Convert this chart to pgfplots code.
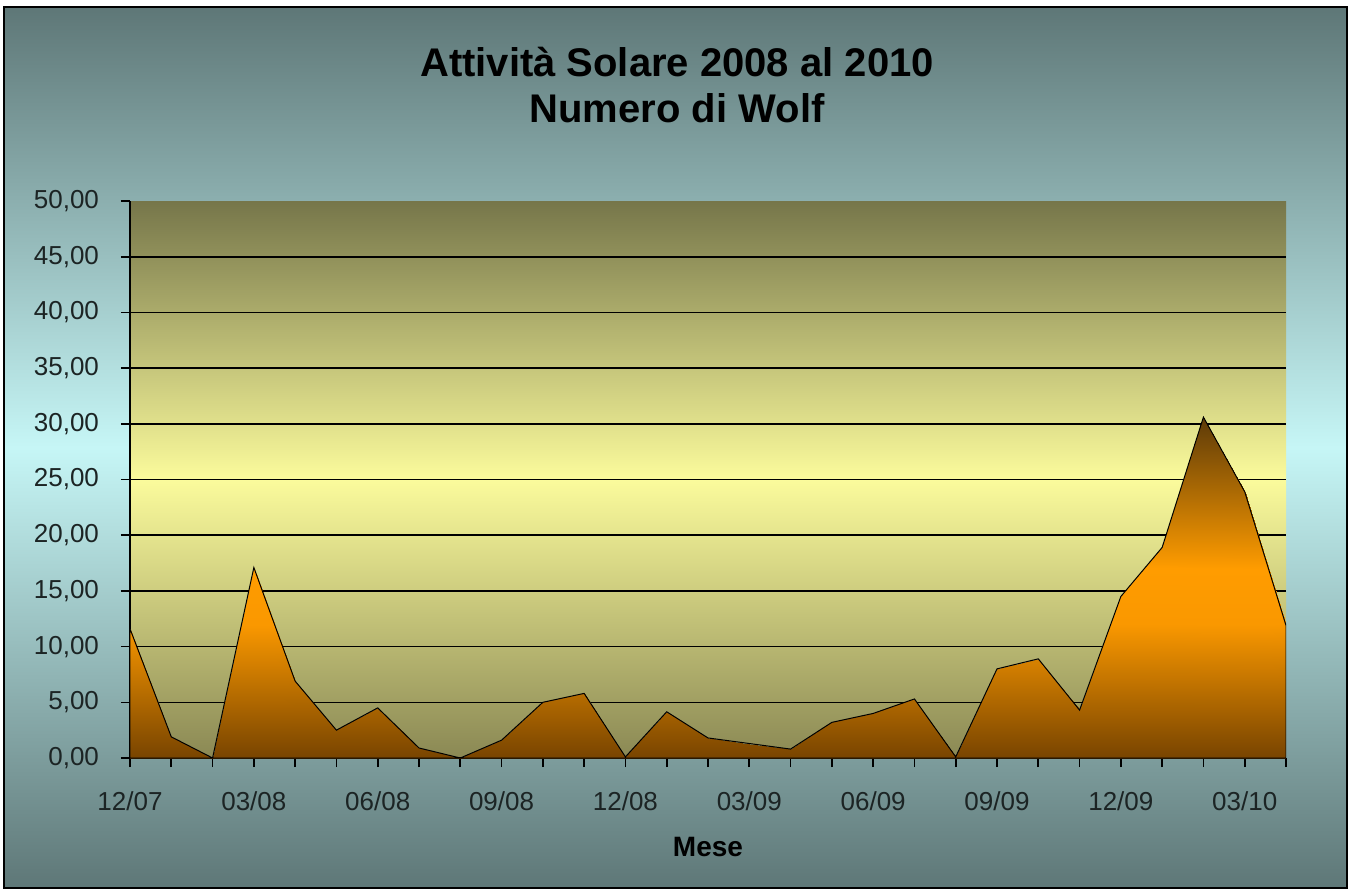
\documentclass[border=0pt]{standalone}
\usepackage{fontspec}
\setmainfont{Liberation Sans}
\usepackage{pgfplots}
\pgfplotsset{compat=1.18}
\definecolor{bgdark}{HTML}{5E7777}
\definecolor{bglight}{HTML}{C6F6F6}
\definecolor{plottop}{HTML}{76764A}
\definecolor{plotmid}{HTML}{FBFB9C}
\definecolor{plotbot}{HTML}{8A8854}
\definecolor{tickc}{HTML}{1C2424}
\begin{document}
\begin{tikzpicture}
\path[use as bounding box, fill=white] (0,0) rectangle (675.5pt,445pt);
\shade[top color=bgdark, bottom color=bgdark, middle color=bglight] (2pt,1pt) rectangle (673.5pt,441.5pt);
\begin{axis}[
  at={(65pt,66pt)}, anchor=south west,
  scale only axis, width=578pt, height=278.5pt,
  xmin=0, xmax=28, ymin=0, ymax=50,
  axis lines*=left,
  axis line style={black, line width=1pt},
  tick align=outside,
  major tick length=4.5pt,
  tick style={black, line width=0.8pt},
  xtick={0,...,28},
  xticklabels={12/07,,,03/08,,,06/08,,,09/08,,,12/08,,,03/09,,,06/09,,,09/09,,,12/09,,,03/10,},
  ytick={0,5,...,45},
  extra y ticks={50},
  extra y tick style={grid=none},
  ymajorgrids,
  grid style={black, line width=0.8pt},
  scaled y ticks=false,
  /pgf/number format/assume math mode=true,
  ticklabel style={font=\fontsize{13}{15}\selectfont, text=tickc},
  yticklabel style={xshift=-7.5pt, /pgf/number format/.cd, fixed, fixed zerofill, precision=2, use comma},
  xticklabel style={yshift=-9pt},
  xlabel={Mese},
  xlabel style={font=\bfseries\fontsize{14}{16}\selectfont, at={(axis description cs:0.5,-0.16)}, anchor=center},
  axis background/.style={shade, top color=plottop, bottom color=plotbot, middle color=plotmid},
  colormap={wolf}{rgb255(0pt)=(120,68,0) rgb255(120pt)=(250,152,0) rgb255(170pt)=(255,156,0) rgb255(306pt)=(92,58,8)},
  point meta min=0, point meta max=30.6,
]
% shaded area: one patch per month interval, vertices (i,0) (i+1,0) (i+1,v) (i,v)
\addplot[patch, patch type=rectangle, shader=interp, point meta=y] coordinates {
(0,0) (1,0) (1,1.9) (0,11.6)
(1,0) (2,0) (2,0) (1,1.9)
(2,0) (3,0) (3,17.1) (2,0)
(3,0) (4,0) (4,6.9) (3,17.1)
(4,0) (5,0) (5,2.5) (4,6.9)
(5,0) (6,0) (6,4.5) (5,2.5)
(6,0) (7,0) (7,0.9) (6,4.5)
(7,0) (8,0) (8,0) (7,0.9)
(8,0) (9,0) (9,1.6) (8,0)
(9,0) (10,0) (10,5.0) (9,1.6)
(10,0) (11,0) (11,5.8) (10,5.0)
(11,0) (12,0) (12,0.1) (11,5.8)
(12,0) (13,0) (13,4.15) (12,0.1)
(13,0) (14,0) (14,1.8) (13,4.15)
(14,0) (15,0) (15,1.3) (14,1.8)
(15,0) (16,0) (16,0.8) (15,1.3)
(16,0) (17,0) (17,3.2) (16,0.8)
(17,0) (18,0) (18,4.0) (17,3.2)
(18,0) (19,0) (19,5.3) (18,4.0)
(19,0) (20,0) (20,0.1) (19,5.3)
(20,0) (21,0) (21,8.0) (20,0.1)
(21,0) (22,0) (22,8.9) (21,8.0)
(22,0) (23,0) (23,4.3) (22,8.9)
(23,0) (24,0) (24,14.5) (23,4.3)
(24,0) (25,0) (25,18.9) (24,14.5)
(25,0) (26,0) (26,30.6) (25,18.9)
(26,0) (27,0) (27,23.9) (26,30.6)
(27,0) (28,0) (28,11.9) (27,23.9)
};
\addplot[draw=black, line width=0.5pt, fill=none, mark=none] coordinates {
(0,11.6) (1,1.9) (2,0) (3,17.1) (4,6.9) (5,2.5) (6,4.5) (7,0.9) (8,0) (9,1.6)
(10,5.0) (11,5.8) (12,0.1) (13,4.15) (14,1.8) (15,1.3) (16,0.8) (17,3.2) (18,4.0) (19,5.3)
(20,0.1) (21,8.0) (22,8.9) (23,4.3) (24,14.5) (25,18.9) (26,30.6) (27,23.9) (28,11.9)
} \closedcycle;
\end{axis}
\draw[black, line width=1pt] (2pt,1pt) rectangle (673.5pt,441.5pt);
\node[font=\bfseries\fontsize{20}{24}\selectfont] at (338.5pt,414pt) {Attività Solare 2008 al 2010};
\node[font=\bfseries\fontsize{20}{24}\selectfont] at (338.5pt,391pt) {Numero di Wolf};
\end{tikzpicture}
\end{document}
